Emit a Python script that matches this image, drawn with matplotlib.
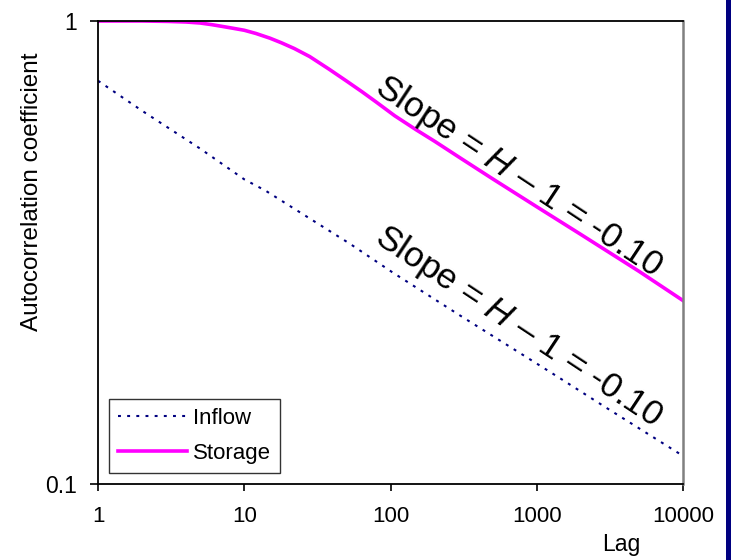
import numpy as np
import matplotlib
matplotlib.use("Agg")
import matplotlib.pyplot as plt
from matplotlib.patches import Rectangle

plt.rcParams['font.family'] = ['Liberation Sans', 'DejaVu Sans']
plt.rcParams['mathtext.fontset'] = 'custom'
plt.rcParams['mathtext.rm'] = 'Liberation Sans'
plt.rcParams['mathtext.it'] = 'Liberation Sans:italic'

# values
storage_lag = [1, 2, 3, 4, 5, 6, 7, 8, 10, 12, 15, 18, 22, 28, 38, 50, 64, 80, 107,
               150, 200, 300, 500, 1000, 2000, 5000, 10000]
storage_acf = [1.0, 1.0, 0.998, 0.995, 0.99, 0.982, 0.974, 0.967, 0.955, 0.94, 0.918,
               0.897, 0.872, 0.838, 0.787, 0.742, 0.703, 0.668, 0.624,
               0.582, 0.55, 0.506, 0.456, 0.397, 0.346, 0.288, 0.249]

inflow_lag = [1, 2, 5, 10, 14, 29, 53, 104, 300, 1000, 1368, 3000, 10000]
inflow_acf = [0.743, 0.64, 0.53, 0.455, 0.43, 0.372, 0.33, 0.286, 0.231, 0.182, 0.171, 0.146, 0.115]

x_ticks = [1, 10, 100, 1000, 10000]
x_tick_labels = ['1', '10', '100', '1000', '10000']
y_ticks = [0.1, 1]
y_tick_labels = ['0.1', '1']

slope_text = r"Slope = $\mathit{H}$ – $\mathit{1}$ = -0.10"

W, H = 731, 560
fig = plt.figure(figsize=(W / 100, H / 100), dpi=100)
ax = fig.add_axes([98 / W, 1 - 484 / H, (683 - 98) / W, (484 - 21) / H])

ax.plot(inflow_lag, inflow_acf, color='#000080', lw=1.5, linestyle=(0, (1.4, 3.0)), label='Inflow')
ax.plot(storage_lag, storage_acf, color='#ff00ff', lw=2.6, label='Storage')

ax.set_xscale('log')
ax.set_yscale('log')
ax.set_xlim(1, 10000)
ax.set_ylim(0.1, 1)
ax.minorticks_off()
ax.set_xticks(x_ticks)
ax.set_xticklabels(x_tick_labels)
ax.set_yticks(y_ticks)
ax.set_yticklabels(y_tick_labels)
ax.tick_params(axis='x', direction='out', length=5, width=1.2, pad=11, labelsize=16)
ax.tick_params(axis='y', direction='out', length=6, width=1.2, pad=9, labelsize=16.5)

for s in ['left', 'bottom', 'top']:
    ax.spines[s].set_color('black')
    ax.spines[s].set_linewidth(1.3)
ax.spines['right'].set_color('#808080')
ax.spines['right'].set_linewidth(1.8)

ax.text(75.9, 0.705, slope_text, rotation=-33.5, rotation_mode='anchor',
        ha='left', va='baseline', fontsize=25.5)
ax.text(75.9, 0.334, slope_text, rotation=-33.5, rotation_mode='anchor',
        ha='left', va='baseline', fontsize=25.5)

leg = ax.legend(loc='lower left', bbox_to_anchor=(109 / W, 1 - 473 / H),
                bbox_transform=fig.transFigure, borderaxespad=0, fontsize=16,
                handlelength=3.1, handletextpad=0.3, labelspacing=0.65,
                fancybox=False, framealpha=1, edgecolor='#333333', borderpad=0.4)
leg.get_frame().set_linewidth(1.0)

fig.text(621 / W, 1 - 545 / H, 'Lag', ha='center', va='center', fontsize=16.5)
fig.text(32 / W, 1 - 192 / H, 'Autocorrelation coefficient', rotation=90,
         ha='center', va='center', fontsize=17.5)

# dark strip on the right edge
fig.patches.append(Rectangle((726 / W, 0), 5 / W, 1, transform=fig.transFigure,
                             facecolor='#000080', edgecolor='none'))

fig.savefig('out.png', dpi=100)
